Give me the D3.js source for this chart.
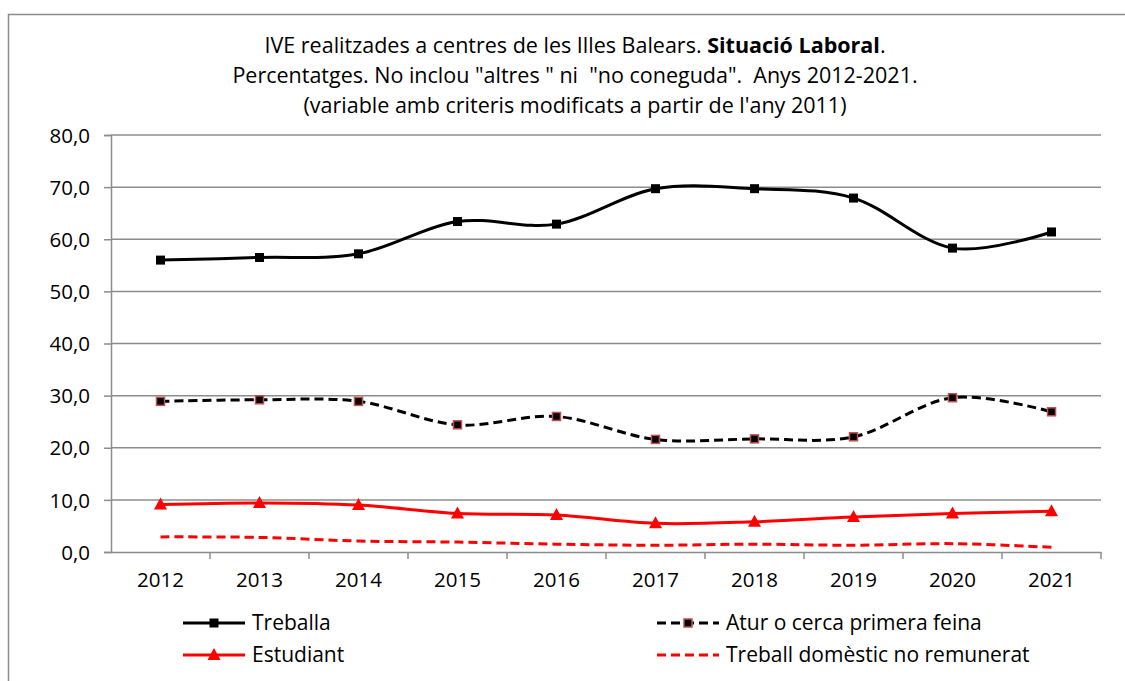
<!DOCTYPE html>
<html>
<head>
<meta charset="utf-8">
<script src="https://cdn.jsdelivr.net/npm/d3@7"></script>
<style>
  body { margin: 0; background: #fff; }
  text { font-family: "Open Sans", "Noto Sans", sans-serif; fill: #000; }
</style>
</head>
<body>
<div id="chart"></div>
<script>
// data
var years = ["2012","2013","2014","2015","2016","2017","2018","2019","2020","2021"];
var treballa = [56.0, 56.5, 57.2, 63.4, 62.9, 69.7, 69.7, 67.9, 58.3, 61.4];
var atur = [28.9, 29.2, 28.9, 24.4, 26.0, 21.6, 21.7, 22.1, 29.6, 26.9];
var estudiant = [9.1, 9.4, 9.0, 7.4, 7.1, 5.5, 5.8, 6.7, 7.4, 7.8];
var domestic = [2.9, 2.8, 2.1, 1.9, 1.5, 1.3, 1.5, 1.3, 1.6, 0.9];
var yTicks = [0, 10, 20, 30, 40, 50, 60, 70, 80];
var titleLines = [
  ["IVE realitzades a centres de les Illes Balears. ", "Situació Laboral", "."],
  ["Percentatges. No inclou \"altres \" ni  \"no coneguda\".  Anys 2012-2021."],
  ["(variable amb criteris modificats a partir de l'any 2011)"]
];

var svgWidth = 1125, svgHeight = 681;
var margin = {top: 135, left: 111};
var width = 990, height = 417;

var svg = d3.select("#chart").append("svg")
  .attr("width", svgWidth)
  .attr("height", svgHeight);

// outer frame
svg.append("rect")
  .attr("x", 8.5).attr("y", 14.5)
  .attr("width", 1130).attr("height", 700)
  .attr("fill", "none").attr("stroke", "#8c8c8c").attr("stroke-width", 1.5);

// title
var title = svg.append("text").attr("text-anchor", "middle")
  .style("font-size", "21.5px").style("white-space", "pre");
titleLines.forEach(function(parts, i) {
  var line = title.append("tspan").attr("x", 575).attr("y", 53 + i * 30);
  parts.forEach(function(p, j) {
    var t = i === 0 && j > 0 ? title.append("tspan") : line;
    if (j === 0) line.text(p);
    else t.text(p).style("font-weight", j === 1 ? "bold" : "normal");
  });
});

var chartGroup = svg.append("g")
  .attr("transform", `translate(${margin.left}, ${margin.top})`);

var x = d3.scaleBand().domain(years).range([0, width]);
var y = d3.scaleLinear().domain([0, 80]).range([height, 0]);

// gridlines
chartGroup.selectAll(".grid").data(yTicks.slice(1)).enter().append("line")
  .attr("x1", 0).attr("x2", width)
  .attr("y1", d => y(d)).attr("y2", d => y(d))
  .attr("stroke", "#8c8c8c").attr("stroke-width", 1.5);

// y axis
var leftAxis = d3.axisLeft(y).tickValues(yTicks).tickSize(7).tickPadding(14)
  .tickFormat(d => d3.format(".1f")(d).replace(".", ","));
var gy = chartGroup.append("g").call(leftAxis);
gy.select(".domain").attr("stroke", "#8c8c8c").attr("stroke-width", 1.5);
gy.selectAll(".tick line").attr("stroke", "#8c8c8c").attr("stroke-width", 1.5);
gy.selectAll("text").style("font-size", "20.5px").attr("font-family", null).attr("dy", "0.35em");

// x axis
var gx = chartGroup.append("g").attr("transform", `translate(0, ${height})`)
  .call(d3.axisBottom(x).tickSize(0).tickPadding(20));
gx.select(".domain").attr("stroke", "#8c8c8c").attr("stroke-width", 1.5);
gx.selectAll("text").style("font-size", "20.5px").attr("font-family", null);
chartGroup.selectAll(".xt").data(years.slice(1).concat(["end"])).enter().append("line")
  .attr("x1", (d, i) => x.step() * (i + 1)).attr("x2", (d, i) => x.step() * (i + 1))
  .attr("y1", height).attr("y2", height + 7)
  .attr("stroke", "#8c8c8c").attr("stroke-width", 1.5);

var cx = d => x(d) + x.bandwidth() / 2;
var line = d3.line()
  .x((d, i) => cx(years[i]))
  .y(d => y(d))
  .curve(d3.curveCatmullRom.alpha(0));

var series = [
  {name: "Treballa", values: treballa, color: "#000", dash: null, marker: "square", w: 3},
  {name: "Atur o cerca primera feina", values: atur, color: "#000", dash: "9,5", marker: "square2", w: 3},
  {name: "Estudiant", values: estudiant, color: "#ff0000", dash: null, marker: "triangle", w: 3},
  {name: "Treball domèstic no remunerat", values: domestic, color: "#ff0000", dash: "9,5", marker: null, w: 3}
];

function drawMarker(g, type, px, py) {
  if (type === "square") {
    g.append("rect").attr("x", px - 4.5).attr("y", py - 4.5).attr("width", 9).attr("height", 9)
      .attr("fill", "#000");
  } else if (type === "square2") {
    g.append("rect").attr("x", px - 4).attr("y", py - 4).attr("width", 8).attr("height", 8)
      .attr("fill", "#000").attr("stroke", "#c0504d").attr("stroke-width", 1.5);
  } else if (type === "triangle") {
    g.append("path").attr("transform", `translate(${px}, ${py})`)
      .attr("d", "M0,-7L6.5,5L-6.5,5Z").attr("fill", "#ff0000");
  }
}

series.forEach(function(s) {
  chartGroup.append("path").datum(s.values)
    .attr("d", line)
    .attr("fill", "none")
    .attr("stroke", s.color)
    .attr("stroke-width", s.w)
    .attr("stroke-dasharray", s.dash);
  if (s.marker) {
    s.values.forEach(function(v, i) {
      drawMarker(chartGroup, s.marker, cx(years[i]), y(v));
    });
  }
});

// legend
var legendPos = [[183, 623], [657, 623], [183, 655], [657, 655]];
series.forEach(function(s, i) {
  var lx = legendPos[i][0], ly = legendPos[i][1];
  var lw = 62;
  svg.append("line").attr("x1", lx).attr("x2", lx + lw).attr("y1", ly).attr("y2", ly)
    .attr("stroke", s.color).attr("stroke-width", 3).attr("stroke-dasharray", s.dash);
  if (s.marker) drawMarker(svg, s.marker, lx + lw / 2, ly);
  svg.append("text").attr("x", lx + lw + 7).attr("y", ly).attr("dy", "0.35em")
    .style("font-size", "21px").text(s.name);
});
</script>
</body>
</html>
